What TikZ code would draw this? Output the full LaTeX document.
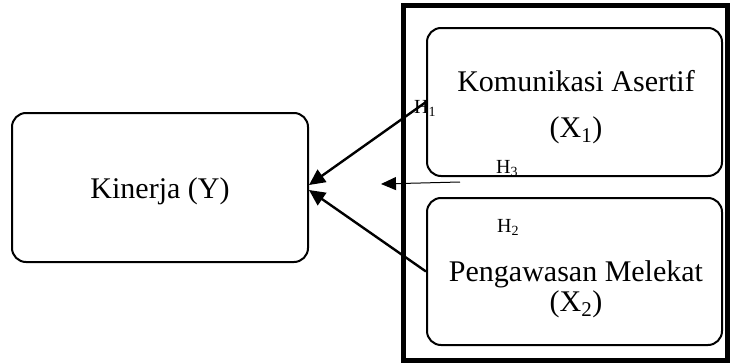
\documentclass[tikz,border=0pt]{standalone}
\usepackage{fontspec}
\setmainfont{Liberation Serif}
\usetikzlibrary{arrows.meta}
\begin{document}
\begin{tikzpicture}[x=1pt,y=-1pt,
  box/.style={draw, line width=2pt, rounded corners=14pt, inner sep=0pt},
  frame/.style={draw, line width=5pt, inner sep=0pt},
  lbl/.style={font=\fontsize{30}{34}\selectfont, inner sep=0pt, anchor=base},
  hyp/.style={font=\fontsize{20}{22}\selectfont, inner sep=0pt, anchor=base west},
  link/.style={line width=2.4pt, -{Triangle[length=16pt,width=15pt]}},
  thinlink/.style={line width=1pt, -{Triangle[length=15pt,width=13pt]}}]
\useasboundingbox (0,0) rectangle (731,364);

% outer frame around the independent variables
\node[frame, minimum width=324pt, minimum height=355pt] (fr) at (565.5,183) {};

% variable boxes
\node[box, minimum width=296pt, minimum height=149pt] (ky) at (160,187.5) {};
\node[box, minimum width=295pt, minimum height=148pt] (kx1) at (574.5,102) {};
\node[box, minimum width=295pt, minimum height=147pt] (kx2) at (574.5,271.5) {};

% box texts
\node[lbl] (tky) at (160,198) {Kinerja (Y)};
\node[lbl] (tx1a) at (576,91) {Komunikasi Asertif};
\node[lbl] (tx1b) at (576,137) {(X\textsubscript{1})};
\node[lbl] (tx2a) at (576,281) {Pengawasan Melekat};
\node[lbl] (tx2b) at (576,311) {(X\textsubscript{2})};

% hypothesis labels
\node[hyp] (h1) at (414,113) {H\textsubscript{1}};
\node[hyp] (h3) at (496,173) {H\textsubscript{3}};
\node[hyp] (h2) at (497,232) {H\textsubscript{2}};

% connectors
\coordinate (h3s) at (460,182);
\coordinate (h3e) at (381,184);
\draw[link] (kx1.west) -- ([yshift=2.5pt]ky.east);
\draw[link] (kx2.west) -- ([yshift=-2.5pt]ky.east);
\draw[thinlink] (h3s) -- (h3e);
\end{tikzpicture}
\end{document}
